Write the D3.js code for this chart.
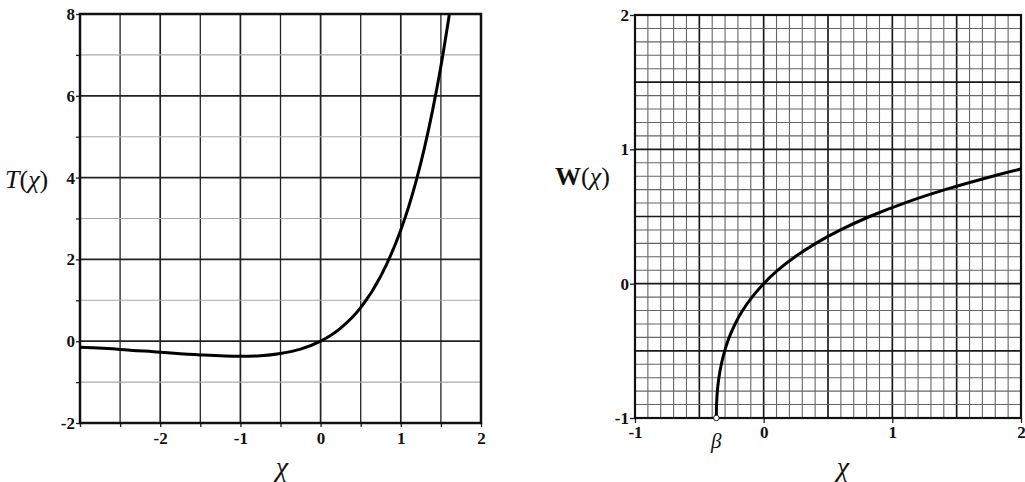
<!doctype html>
<html lang="en">
    <head>
        <meta charset="utf-8">
        <script src="https://d3js.org/d3.v7.min.js"></script>
        <title>T(x) and W(x)</title>
        <style>
            body { margin: 0; background: #fff; }
            text { font-family: "Liberation Serif", "DejaVu Serif", serif; fill: #111; }
            .domain { display: none; }
        </style>
    </head>
    <body>
        <div id="my_dataviz"></div>

        <script>
            // T(x)
            var tX = [-3, -2.5, -2, -1.5, -1, -0.75, -0.5, -0.25, 0, 0.25, 0.5, 0.75, 1, 1.1, 1.2, 1.3, 1.4, 1.5, 1.606]
            var tY = [-0.15, -0.2, -0.27, -0.335, -0.37, -0.355, -0.3, -0.195, 0, 0.32, 0.82, 1.59, 2.72, 3.3, 3.98, 4.77, 5.68, 6.72, 8]

            // W(x)
            var wX = [-0.368, -0.366, -0.36, -0.348, -0.329, -0.303, -0.268, -0.222, -0.164, -0.09, 0, 0.11, 0.244, 0.405, 0.597, 0.824, 1.093, 1.41, 1.78, 2]
            var wY = [-1, -0.9, -0.8, -0.7, -0.6, -0.5, -0.4, -0.3, -0.2, -0.1, 0, 0.1, 0.2, 0.3, 0.4, 0.5, 0.6, 0.7, 0.8, 0.853]

            // tick labels
            var tXLabels = [-2, -1, 0, 1, 2]
            var tYLabels = [-2, 0, 2, 4, 6, 8]
            var wXLabels = [-1, 0, 1, 2]
            var wYLabels = [-1, 0, 1, 2]
            var beta = -0.368

            var width = 1025
            var height = 482

            var svg = d3.select("#my_dataviz")
                .append("svg")
                .attr("width", width)
                .attr("height", height)

            function styleAxis(g) {
                g.attr("font-size", 17).attr("font-family", "Liberation Serif")
                g.selectAll("line").attr("stroke", "#222").attr("stroke-width", 1.3)
                g.selectAll("text")
                    .attr("font-size", 17)
                    .attr("font-weight", "bold")
                    .style("font-size", "17px")
                    .style("font-weight", "bold")
                    .attr("fill", "#111")
            }

            // ---------- left plot ----------
            var x1 = d3.scaleLinear().domain([-3, 2]).range([80, 481])
            var y1 = d3.scaleLinear().domain([-2, 8]).range([423, 14])
            var left = svg.append("g")

            // vertical grid every 0.5
            left.selectAll("vline")
                .data(d3.range(-2.5, 2, 0.5))
                .enter()
                .append("line")
                .attr("x1", function(d){ return x1(d) })
                .attr("x2", function(d){ return x1(d) })
                .attr("y1", y1(-2))
                .attr("y2", y1(8))
                .attr("stroke", "#222")
                .attr("stroke-width", function(d){ return d % 1 == 0 ? 1.7 : 1.3 })

            // horizontal grid every 1, odd ones light
            left.selectAll("hline")
                .data(d3.range(-1, 8, 1))
                .enter()
                .append("line")
                .attr("x1", x1(-3))
                .attr("x2", x1(2))
                .attr("y1", function(d){ return y1(d) })
                .attr("y2", function(d){ return y1(d) })
                .attr("stroke", function(d){ return d % 2 == 0 ? "#222" : "#aaa" })
                .attr("stroke-width", function(d){ return d % 2 == 0 ? 1.7 : 1.1 })

            left.append("g")
                .attr("transform", "translate(0," + y1(-2) + ")")
                .call(d3.axisBottom(x1)
                    .tickValues(d3.range(-3, 2.01, 0.5))
                    .tickSize(4)
                    .tickPadding(5)
                    .tickFormat(function(d){ return tXLabels.indexOf(d) >= 0 ? d : "" }))
                .call(styleAxis)

            left.append("g")
                .attr("transform", "translate(" + x1(-3) + ",0)")
                .call(d3.axisLeft(y1)
                    .tickValues(d3.range(-2, 8.01, 1))
                    .tickSize(4)
                    .tickPadding(1)
                    .tickFormat(function(d){ return tYLabels.indexOf(d) >= 0 ? d : "" }))
                .call(styleAxis)

            left.append("rect")
                .attr("x", x1(-3)).attr("y", y1(8))
                .attr("width", x1(2) - x1(-3)).attr("height", y1(-2) - y1(8))
                .attr("fill", "none").attr("stroke", "#111").attr("stroke-width", 2.5)

            left.append("path")
                .datum(d3.range(tX.length))
                .attr("fill", "none")
                .attr("stroke", "#000")
                .attr("stroke-width", 3)
                .attr("d", d3.line()
                    .curve(d3.curveMonotoneX)
                    .x(function(i){ return x1(tX[i]) })
                    .y(function(i){ return y1(tY[i]) }))

            var tLab = left.append("text").attr("x", 5).attr("y", 188).style("font-size", "26px")
            tLab.append("tspan").style("font-style", "italic").text("T")
            tLab.append("tspan").text("(")
            tLab.append("tspan").style("font-style", "italic").text("χ")
            tLab.append("tspan").text(")")

            left.append("text")
                .attr("x", 282).attr("y", 476)
                .attr("text-anchor", "middle")
                .style("font-size", "28px").style("font-style", "italic")
                .text("χ")

            // ---------- right plot ----------
            var x2 = d3.scaleLinear().domain([-1, 2]).range([635, 1021])
            var y2 = d3.scaleLinear().domain([-1, 2]).range([418, 15])
            var right = svg.append("g")

            function isMajor(d) { return Math.abs(d * 2 - Math.round(d * 2)) < 1e-6 }

            var fine = d3.range(1, 30).map(function(i){ return -1 + i / 10 })
            right.selectAll("vline")
                .data(fine)
                .enter()
                .append("line")
                .attr("x1", function(d){ return x2(d) })
                .attr("x2", function(d){ return x2(d) })
                .attr("y1", y2(-1))
                .attr("y2", y2(2))
                .attr("stroke", function(d){ return isMajor(d) ? "#1a1a1a" : "#666" })
                .attr("stroke-width", function(d){ return isMajor(d) ? 1.7 : 1.1 })

            right.selectAll("hline")
                .data(fine)
                .enter()
                .append("line")
                .attr("x1", x2(-1))
                .attr("x2", x2(2))
                .attr("y1", function(d){ return y2(d) })
                .attr("y2", function(d){ return y2(d) })
                .attr("stroke", function(d){ return isMajor(d) ? "#1a1a1a" : "#666" })
                .attr("stroke-width", function(d){ return isMajor(d) ? 1.7 : 1.1 })

            right.append("g")
                .attr("transform", "translate(0," + y2(-1) + ")")
                .call(d3.axisBottom(x2)
                    .tickValues(wXLabels)
                    .tickSize(5)
                    .tickPadding(3)
                    .tickFormat(function(d){ return d }))
                .call(styleAxis)

            right.append("g")
                .attr("transform", "translate(" + x2(-1) + ",0)")
                .call(d3.axisLeft(y2)
                    .tickValues(wYLabels)
                    .tickSize(5)
                    .tickPadding(1)
                    .tickFormat(function(d){ return d }))
                .call(styleAxis)

            right.append("rect")
                .attr("x", x2(-1)).attr("y", y2(2))
                .attr("width", x2(2) - x2(-1)).attr("height", y2(-1) - y2(2))
                .attr("fill", "none").attr("stroke", "#111").attr("stroke-width", 2.2)

            right.append("path")
                .datum(d3.range(wX.length))
                .attr("fill", "none")
                .attr("stroke", "#000")
                .attr("stroke-width", 3)
                .attr("d", d3.line()
                    .curve(d3.curveCatmullRom.alpha(0.5))
                    .x(function(i){ return x2(wX[i]) })
                    .y(function(i){ return y2(wY[i]) }))

            right.append("circle")
                .attr("cx", x2(beta)).attr("cy", y2(-1)).attr("r", 2.8)
                .attr("fill", "#fff").attr("stroke", "#222").attr("stroke-width", 1)

            right.append("text")
                .attr("x", x2(beta)).attr("y", 448)
                .attr("text-anchor", "middle")
                .style("font-size", "21px").style("font-style", "italic")
                .text("β")

            var wLab = right.append("text").attr("x", 555).attr("y", 185).style("font-size", "26px")
            wLab.append("tspan").style("font-weight", "bold").text("W")
            wLab.append("tspan").text("(")
            wLab.append("tspan").style("font-style", "italic").text("χ")
            wLab.append("tspan").text(")")

            right.append("text")
                .attr("x", 843).attr("y", 476)
                .attr("text-anchor", "middle")
                .style("font-size", "28px").style("font-style", "italic")
                .text("χ")
        </script>
    </body>
</html>
